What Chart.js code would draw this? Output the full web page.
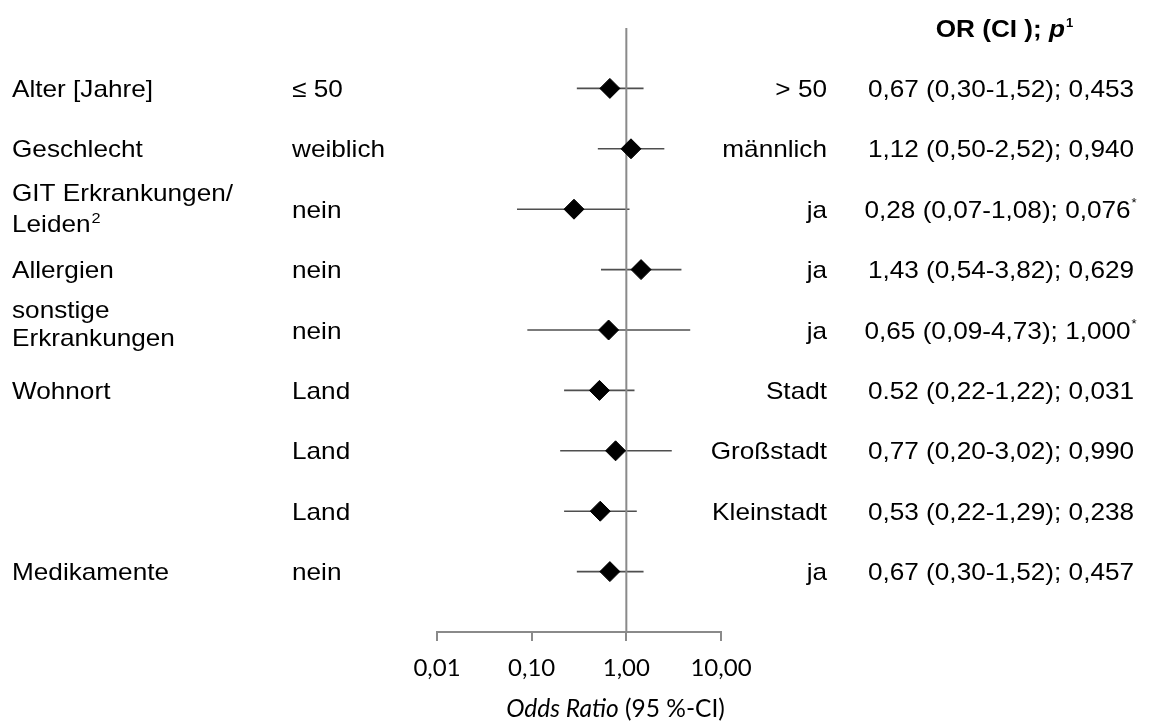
<!DOCTYPE html>
<html>
<head>
<meta charset="utf-8">
<script src="https://cdn.jsdelivr.net/npm/chart.js@4/dist/chart.umd.min.js"></script>
<style>
  html, body { margin: 0; padding: 0; background: #fff; }
  canvas { display: block; }
</style>
</head>
<body>
<canvas id="forest" width="1149" height="724"></canvas>
<script>
// Rows of the forest plot, top to bottom
const variables = ["Alter [Jahre]", "Geschlecht", "GIT Erkrankungen/\nLeiden²", "Allergien",
                   "sonstige\nErkrankungen", "Wohnort", "", "", "Medikamente"];
const refGroups = ["≤ 50", "weiblich", "nein", "nein", "nein", "Land", "Land", "Land", "nein"];
const compGroups = ["> 50", "männlich", "ja", "ja", "ja", "Stadt", "Großstadt", "Kleinstadt", "ja"];
const oddsRatio = [0.67, 1.12, 0.28, 1.43, 0.65, 0.52, 0.77, 0.53, 0.67];
const ciLower   = [0.30, 0.50, 0.07, 0.54, 0.09, 0.22, 0.20, 0.22, 0.30];
const ciUpper   = [1.52, 2.52, 1.08, 3.82, 4.73, 1.22, 3.02, 1.29, 1.52];
const pValues   = ["0,453", "0,940", "0,076", "0,629", "1,000", "0,031", "0,990", "0,238", "0,457"];
const pFootnote = ["", "", "*", "", "*", "", "", "", ""];
// the Stadt row prints its odds ratio with a decimal point
const orDecimalMark = [",", ",", ",", ",", ",", ".", ",", ",", ","];
const tickValues = [0.01, 0.1, 1, 10];
const tickLabels = ["0,01", "0,10", "1,00", "10,00"];

const fmt = (v, mark) => v.toFixed(2).replace(".", mark || ",");

const rows = oddsRatio.map((_, i) => i + 1);

const ciDatasets = rows.map((r, i) => ({
  type: "scatter",
  showLine: true,
  data: [{ x: ciLower[i], y: r }, { x: ciUpper[i], y: r }],
  borderColor: "#4f4f4f",
  borderWidth: 1.6,
  pointRadius: 0,
  order: 3
}));

const refLine = {
  type: "scatter",
  showLine: true,
  data: [{ x: 1, y: 0 }, { x: 1, y: 10 }],
  borderColor: "#8a8a8a",
  borderWidth: 2,
  pointRadius: 0,
  order: 2
};

const points = {
  type: "scatter",
  data: rows.map((r, i) => ({ x: oddsRatio[i], y: r })),
  pointStyle: "rectRot",
  pointRadius: 10,
  backgroundColor: "#000",
  borderColor: "#000",
  borderWidth: 1,
  order: 1
};

const ARIAL = '"Liberation Sans", Arial, sans-serif';
const SX = 1.09; // horizontal text stretch

function txt(ctx, s, x, y, font, align) {
  ctx.save();
  ctx.font = font;
  ctx.translate(x, y);
  ctx.scale(SX, 1);
  ctx.textAlign = align || "left";
  ctx.textBaseline = "alphabetic";
  ctx.fillText(s, 0, 0);
  ctx.restore();
}
function w(ctx, s, font) {
  ctx.save(); ctx.font = font;
  const m = ctx.measureText(s).width * SX;
  ctx.restore();
  return m;
}

const tablePlugin = {
  id: "forestTable",
  afterDraw(chart) {
    const ctx = chart.ctx;
    const ys = chart.scales.y;
    const f = "24px " + ARIAL;
    const fb = "bold 24px " + ARIAL;
    const fbi = "italic bold 24px " + ARIAL;
    const fsup = "14px " + ARIAL;
    ctx.fillStyle = "#000";

    // header
    const h1 = "OR (CI ); ", h2 = "p", h3 = "1";
    const hw = w(ctx, h1, fb) + w(ctx, h2, fbi) + w(ctx, h3, "bold 12px " + ARIAL);
    let hx = 1004 - hw / 2;
    txt(ctx, h1, hx, 37, fb); hx += w(ctx, h1, fb);
    txt(ctx, h2, hx, 37, fbi); hx += w(ctx, h2, fbi) + 1;
    txt(ctx, h3, hx, 27, "bold 12px " + ARIAL);

    rows.forEach((r, i) => {
      const y = ys.getPixelForValue(r);
      const base = y + 8.5;
      // variable name, possibly on two lines
      const lines = variables[i].split("\n");
      if (lines.length === 1) {
        txt(ctx, lines[0], 12, base, f);
      } else {
        const offs = lines[1].includes("²") ? [-8, 23] : [-12, 16];
        lines.forEach((ln, k) => {
          if (ln.endsWith("²")) {
            const main = ln.slice(0, -1);
            txt(ctx, main, 12, y + offs[k], f);
            txt(ctx, "2", 12 + w(ctx, main, f) + 1, y + offs[k] - 9, "15px " + ARIAL);
          } else {
            txt(ctx, ln, 12, y + offs[k], f);
          }
        });
      }
      txt(ctx, refGroups[i], 292, base, f);
      txt(ctx, compGroups[i], 827, base, f, "right");

      const s = fmt(oddsRatio[i], orDecimalMark[i]) + " (" + fmt(ciLower[i]) + "-" +
                fmt(ciUpper[i]) + "); " + pValues[i];
      const star = pFootnote[i];
      const sw = w(ctx, s, f) + (star ? w(ctx, star, fsup) + 1 : 0);
      const sx0 = 1001 - sw / 2;
      txt(ctx, s, sx0, base, f);
      if (star) txt(ctx, star, sx0 + w(ctx, s, f) + 1, base - 11, "12px " + ARIAL);
    });

    // axis title: italic part + upright part
    const tf = "24.5px Lato, sans-serif", tfi = "italic 24.5px Lato, sans-serif";
    ctx.save();
    ctx.textBaseline = "alphabetic";
    ctx.textAlign = "left";
    ctx.font = tfi;
    const a = "Odds Ratio";
    const aw = ctx.measureText(a).width;
    ctx.font = tf;
    const b = " (95 %-CI)";
    const total = aw + ctx.measureText(b).width;
    const tx = 615.5 - total / 2;
    ctx.font = tfi; ctx.fillText(a, tx, 717);
    ctx.font = tf; ctx.fillText(b, tx + aw, 717);
    ctx.restore();
  }
};

new Chart(document.getElementById("forest"), {
  type: "scatter",
  data: { datasets: [points, refLine, ...ciDatasets] },
  options: {
    responsive: false,
    animation: false,
    devicePixelRatio: 1,
    layout: { padding: { left: 437, right: 428, top: 28, bottom: 0 } },
    plugins: { legend: { display: false }, tooltip: { enabled: false } },
    scales: {
      x: {
        type: "logarithmic",
        position: "bottom",
        min: 0.01,
        max: 10,
        afterBuildTicks: (scale) => { scale.ticks = tickValues.map(v => ({ value: v })); },
        afterFit: (scale) => { scale.height = 92; },
        border: { display: true, color: "#8a8a8a", width: 2 },
        grid: { drawOnChartArea: false, drawTicks: true, tickLength: 9, color: "#8a8a8a", lineWidth: 2 },
        ticks: {
          autoSkip: false,
          maxRotation: 0,
          padding: 13,
          color: "#000",
          font: { family: "Lato", size: 24 },
          callback: (v, i) => tickLabels[i]
        }
      },
      y: { type: "linear", min: 0, max: 10, reverse: true, display: false }
    }
  },
  plugins: [tablePlugin]
});
</script>
</body>
</html>
